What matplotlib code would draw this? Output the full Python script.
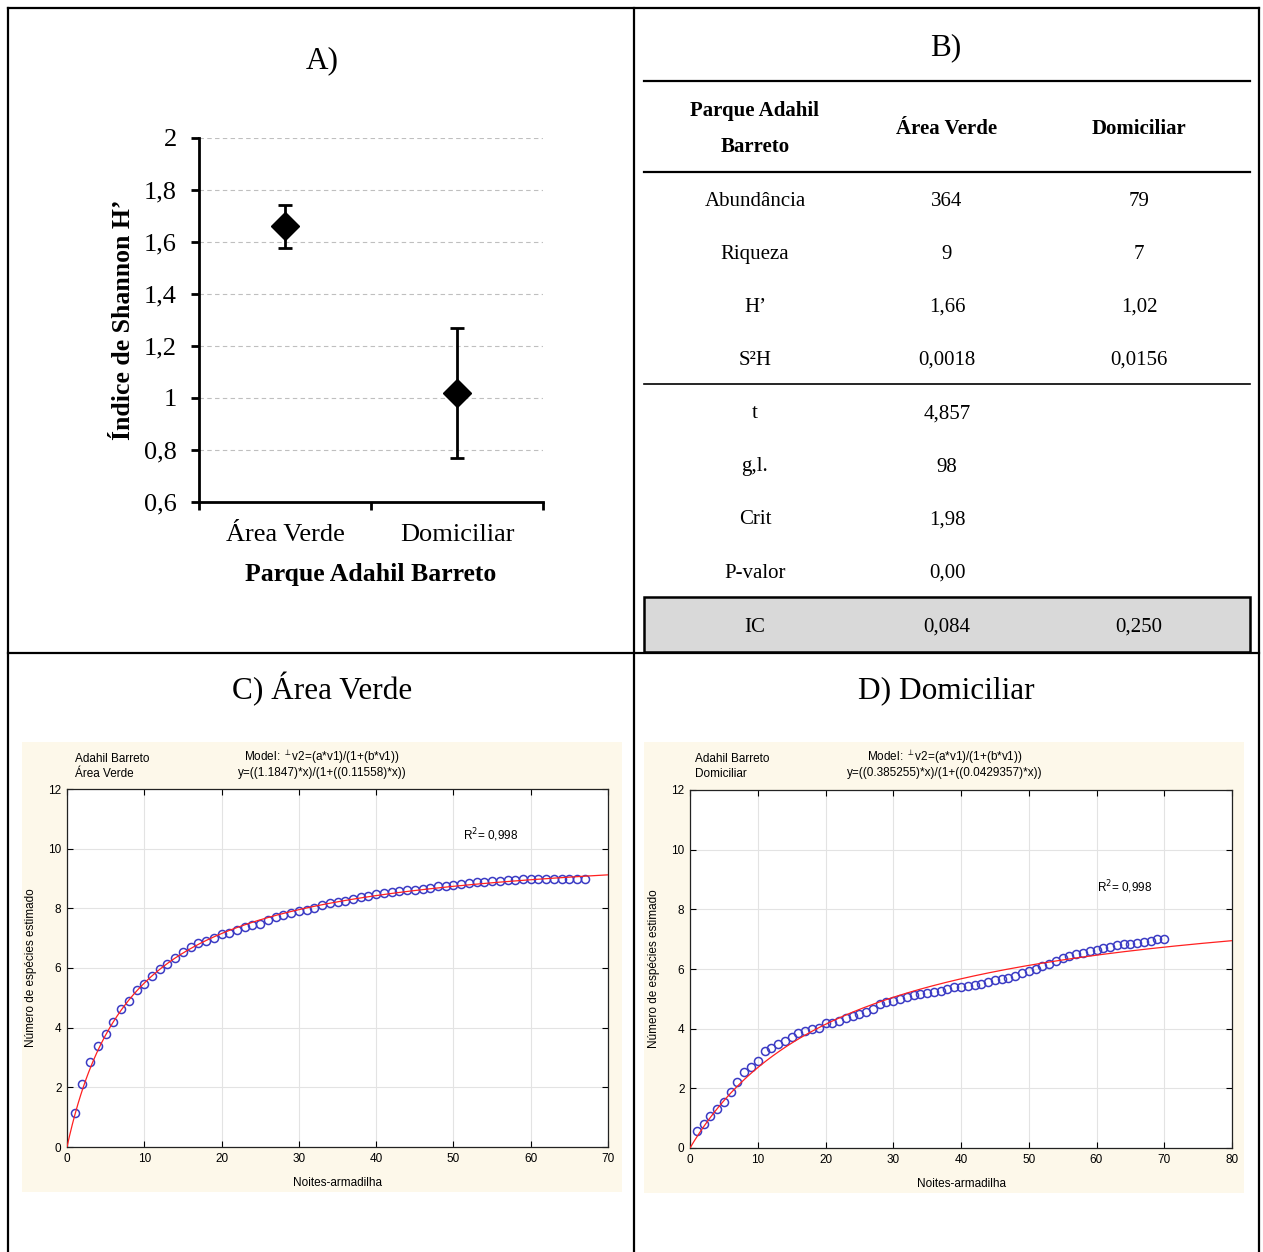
import matplotlib
matplotlib.use('Agg')
import matplotlib.pyplot as plt
from matplotlib.patches import Rectangle
import numpy as np

# panel A data
sites = ['Área Verde', 'Domiciliar']
shannon_h = [1.66, 1.02]
shannon_ic = [0.084, 0.250]

# panel B table
table_header = ['Parque Adahil\nBarreto', 'Área Verde', 'Domiciliar']
table_rows = [
    ['Abundância', '364', '79'],
    ['Riqueza', '9', '7'],
    ['H’', '1,66', '1,02'],
    ['S²H', '0,0018', '0,0156'],
]
test_rows = [
    ['t', '4,857', ''],
    ['g,l.', '98', ''],
    ['Crit', '1,98', ''],
    ['P-valor', '0,00', ''],
]
ic_row = ['IC', '0,084', '0,250']

# panel C data (rarefaction, Área Verde)
nights_c = np.arange(1, 68)
species_c = [1.14, 2.10, 2.85, 3.38, 3.78, 4.18, 4.61, 4.89, 5.26, 5.45,
             5.73, 5.95, 6.12, 6.32, 6.52, 6.69, 6.85, 6.91, 7.02, 7.14,
             7.18, 7.27, 7.36, 7.44, 7.49, 7.61, 7.70, 7.77, 7.83, 7.91,
             7.96, 8.02, 8.12, 8.17, 8.21, 8.26, 8.32, 8.39, 8.43, 8.49,
             8.52, 8.55, 8.58, 8.60, 8.62, 8.65, 8.69, 8.74, 8.76, 8.78,
             8.81, 8.85, 8.87, 8.89, 8.90, 8.93, 8.94, 8.95, 8.97, 8.98,
             8.99, 8.99, 9.00, 9.00, 9.00, 9.00, 9.00]
fit_c = (1.1847, 0.11558)

# panel D data (rarefaction, Domiciliar)
nights_d = np.arange(1, 71)
species_d = [0.56, 0.81, 1.06, 1.32, 1.53, 1.87, 2.22, 2.54, 2.71, 2.91,
             3.24, 3.36, 3.48, 3.57, 3.72, 3.86, 3.91, 3.99, 4.01, 4.19,
             4.20, 4.26, 4.37, 4.43, 4.50, 4.56, 4.65, 4.82, 4.88, 4.92,
             4.99, 5.06, 5.12, 5.16, 5.21, 5.23, 5.26, 5.32, 5.38, 5.40,
             5.42, 5.45, 5.50, 5.58, 5.64, 5.67, 5.70, 5.77, 5.85, 5.94,
             6.00, 6.10, 6.18, 6.27, 6.38, 6.45, 6.51, 6.55, 6.60, 6.64,
             6.71, 6.75, 6.79, 6.83, 6.85, 6.88, 6.90, 6.95, 7.01, 7.01]
fit_d = (0.385255, 0.0429357)

W, H = 1263, 1252
SERIF = ['Liberation Serif', 'DejaVu Serif']
SANS = ['Liberation Sans', 'DejaVu Sans']

fig = plt.figure(figsize=(W / 100, H / 100), dpi=100)
fig.patch.set_facecolor('white')

def box(x0, y0, x1, y1):
    # pixel box -> figure fraction [left, bottom, width, height]
    return [x0 / W, 1 - y1 / H, (x1 - x0) / W, (y1 - y0) / H]

# background layer in pixel coordinates
bg = fig.add_axes([0, 0, 1, 1], zorder=-1)
bg.set_xlim(0, W)
bg.set_ylim(H, 0)
bg.axis('off')

# frame of the composite figure
lw_frame = 1.6
bg.plot([8, 1259], [8, 8], color='black', lw=lw_frame)
bg.plot([8, 8], [8, H], color='black', lw=lw_frame)
bg.plot([1259, 1259], [8, H], color='black', lw=lw_frame)
bg.plot([634, 634], [8, H], color='black', lw=lw_frame)
bg.plot([8, 1259], [653, 653], color='black', lw=lw_frame)

# panel titles
bg.text(322, 68, 'A)', family=SERIF, fontsize=22.5, ha='center', va='baseline')
bg.text(946, 55, 'B)', family=SERIF, fontsize=22.5, ha='center', va='baseline')
bg.text(322, 699, 'C) Área Verde', family=SERIF, fontsize=22.5, ha='center', va='baseline')
bg.text(946, 698, 'D) Domiciliar', family=SERIF, fontsize=22.5, ha='center', va='baseline')

# ---- panel B: table ----
col_x = [755, 947, 1139]
bg.plot([644, 1250], [81, 81], color='black', lw=1.6)
bg.plot([644, 1250], [172, 172], color='black', lw=1.6)
bg.plot([644, 1250], [384, 384], color='black', lw=1.2)
for cx, lab in zip(col_x, table_header):
    bg.text(cx, 129, lab, family=SERIF, fontsize=15, fontweight='bold',
            ha='center', va='center', linespacing=2.1)
for i, row in enumerate(table_rows):
    y = 202 + i * 52.7
    for cx, val in zip(col_x, row):
        bg.text(cx, y, val, family=SERIF, fontsize=15, ha='center', va='center')
for i, row in enumerate(test_rows):
    y = 414 + i * 53
    for cx, val in zip(col_x, row):
        bg.text(cx, y, val, family=SERIF, fontsize=15, ha='center', va='center')
bg.add_patch(Rectangle((644, 597), 606, 55, facecolor='#d9d9d9',
                       edgecolor='black', lw=1.8))
for cx, val in zip(col_x, ic_row):
    bg.text(cx, 627, val, family=SERIF, fontsize=15, ha='center', va='center')

# beige panels behind C and D
bg.add_patch(Rectangle((22, 742), 600, 450, facecolor='#fdf8ea', edgecolor='none'))
bg.add_patch(Rectangle((644, 742), 600, 451, facecolor='#fdf8ea', edgecolor='none'))

# ---- panel A ----
axA = fig.add_axes(box(199, 138, 543, 502))
xpos = [0.5, 1.5]
axA.errorbar(xpos, shannon_h, yerr=shannon_ic, fmt='D', color='black',
             markersize=14, elinewidth=2, capsize=5, capthick=2)
axA.set_xlim(0, 2)
axA.set_ylim(0.6, 2)
axA.set_yticks(np.arange(0.6, 2.01, 0.2))
axA.set_yticklabels(['0,6', '0,8', '1', '1,2', '1,4', '1,6', '1,8', '2'])
axA.set_xticks([0, 1, 2])
axA.set_xticklabels([])
axA.set_xticks(xpos, minor=True)
axA.set_xticklabels(sites, minor=True)
axA.tick_params(axis='x', which='minor', length=0, pad=16)
axA.tick_params(axis='both', which='major', length=6, width=2, direction='out')
axA.tick_params(axis='y', which='major', pad=10)
for lab in axA.get_xticklabels(minor=True) + axA.get_yticklabels():
    lab.set_family(SERIF)
    lab.set_fontsize(19)
axA.grid(axis='y', linestyle=(0, (4, 3)), color='#bfbfbf', lw=0.8)
axA.set_axisbelow(True)
for s in ['top', 'right']:
    axA.spines[s].set_visible(False)
for s in ['left', 'bottom']:
    axA.spines[s].set_linewidth(2)
axA.set_ylabel('Índice de Shannon H’', family=SERIF, fontsize=18.5,
               fontweight='bold', labelpad=6)
axA.set_xlabel('Parque Adahil Barreto', family=SERIF, fontsize=18.5,
               fontweight='bold', labelpad=12)

# ---- panels C and D ----
def rarefaction(rect, nights, species, fit, xmax, xticks, r2_xy):
    ax = fig.add_axes(box(*rect))
    a, b = fit
    xf = np.linspace(0, xmax, 400)
    ax.plot(xf, a * xf / (1 + b * xf), color='#ff2020', lw=0.9, zorder=3)
    ax.plot(nights, species, 'o', mfc='none', mec='#3b3bc4', mew=1.1,
            markersize=5.8, zorder=2)
    ax.set_xlim(0, xmax)
    ax.set_ylim(0, 12)
    ax.set_xticks(xticks)
    ax.set_yticks(range(0, 13, 2))
    ax.grid(color='#e3e3e3', lw=0.8)
    ax.set_axisbelow(True)
    ax.tick_params(direction='in', length=4, width=0.8, labelsize=8.5,
                   top=True, right=True, pad=4)
    for lab in ax.get_xticklabels() + ax.get_yticklabels():
        lab.set_family(SANS)
    for s in ax.spines.values():
        s.set_linewidth(0.9)
        s.set_color('#222222')
    ax.set_xlabel('Noites-armadilha', family=SANS, fontsize=8.5, labelpad=9)
    ax.set_ylabel('Número de espécies estimado', family=SANS, fontsize=8.5,
                  labelpad=8)
    ax.text(r2_xy[0], r2_xy[1], 'R$^2$= 0,998', family=SANS, fontsize=8.5,
            ha='left', va='center')
    return ax

axC = rarefaction((67, 789, 608, 1147), nights_c, species_c, fit_c, 70,
                  range(0, 71, 10), (51.2, 10.45))
axD = rarefaction((690, 790, 1232, 1148), nights_d, species_d, fit_d, 80,
                  range(0, 81, 10), (60.1, 8.75))

# header texts of C and D
for x0, xc, site, eq in [(75, 322, 'Área Verde', 'y=((1.1847)*x)/(1+((0.11558)*x))'),
                         (695, 945, 'Domiciliar', 'y=((0.385255)*x)/(1+((0.0429357)*x))')]:
    bg.text(x0, 759, 'Adahil Barreto', family=SANS, fontsize=8.5, ha='left', va='center')
    bg.text(x0, 774, site, family=SANS, fontsize=8.5, ha='left', va='center')
    bg.text(xc, 757, r'Model: $^{\perp}$v2=(a*v1)/(1+(b*v1))', family=SANS,
            fontsize=8.5, ha='center', va='center')
    bg.text(xc, 773, eq, family=SANS, fontsize=8.5, ha='center', va='center')

fig.savefig('out.png', dpi=100)
